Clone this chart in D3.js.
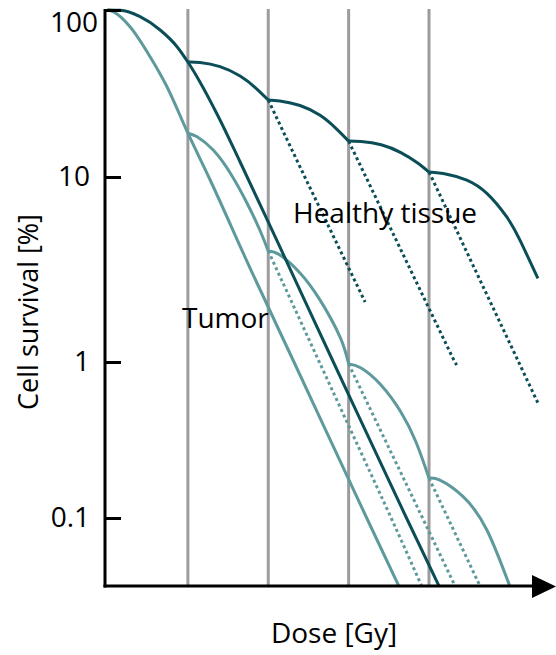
<!DOCTYPE html>
<html>
<head>
<meta charset="utf-8">
<script src="https://cdn.jsdelivr.net/npm/d3@7"></script>
<style>
  html, body { margin: 0; padding: 0; background: #fff; }
  svg { display: block; font-family: "Open Sans", sans-serif; }
</style>
</head>
<body>
<svg id="chart" width="556" height="655"></svg>
<script>
// Dose at which each fraction is delivered (Gy)
const fractionDoses = [2, 4, 6, 8];

// Survival axis (percent) and its labels
const survivalTicks = [0.1, 1, 10, 100];
const survivalTickLabels = ["0.1", "1", "10", "100"];

// Healthy tissue: whole dose given at once  [dose Gy, survival %]
const healthySingle = [[0, 100], [0.31, 99.5], [0.81, 91.2], [1.31, 75.9], [1.73, 60.3], [2, 48.8],
  [2.3, 37.1], [2.75, 23.2], [3.3, 12.3], [4.22, 4.51], [5.62, 1], [7.44, 0.1], [8.25, 0.0366]];

// Healthy tissue: recovery shoulder after each fraction
const healthyFraction1 = [[2, 48.8], [2.3, 48.5], [2.8, 45.8], [3.3, 40.2], [3.69, 34.1], [4, 28.9]];
const healthyFraction2 = [[4, 28.9], [4.29, 28.5], [4.79, 26.8], [5.29, 23.4], [5.69, 19.5], [6, 16.4]];
const healthyFraction3 = [[6, 16.4], [6.31, 16.3], [6.81, 15.6], [7.3, 14.0], [7.7, 12.2], [8, 10.7]];
const healthyFraction4 = [[8, 10.7], [8.44, 10.4], [8.94, 9.63], [9.44, 8.16], [9.93, 6.10], [10.26, 4.57], [10.71, 2.83]];

// Healthy tissue: survival if the dose had continued without a break
const healthyContinued1 = [[4, 28.9], [4.91, 10], [6.41, 2.11]];
const healthyContinued2 = [[6, 16.4], [6.43, 10], [8.64, 1], [8.69, 0.957]];
const healthyContinued3 = [[8, 10.7], [8.06, 10], [10.23, 1], [10.71, 0.546]];

// Tumor: whole dose given at once
const tumorSingle = [[0, 100], [0.14, 97.7], [0.56, 79.4], [1.06, 52.5], [1.48, 34.7], [2, 18.3],
  [2.52, 10], [3.59, 3.07], [4.64, 1], [6.45, 0.1], [7.25, 0.0366]];

// Tumor: shoulder after each fraction
const tumorFraction1 = [[2, 18.3], [2.23, 17.4], [2.63, 14.5], [3.05, 10.6], [3.47, 7.24], [3.79, 5.17], [4, 3.98]];
const tumorFraction2 = [[4, 3.98], [4.29, 3.79], [4.79, 3.03], [5.29, 2.16], [5.79, 1.36], [6, 0.971]];
const tumorFraction3 = [[6, 0.971], [6.31, 0.915], [6.805, 0.712], [7.3, 0.478], [7.676, 0.307], [8, 0.180]];
const tumorFraction4 = [[8, 0.180], [8.27, 0.175], [8.85, 0.137], [9.44, 0.0838], [10.01, 0.0366]];

// Tumor: survival if the dose had continued without a break
const tumorContinued1 = [[4, 3.98], [5.27, 1], [7.06, 0.1], [7.82, 0.0366]];
const tumorContinued2 = [[6, 0.971], [7.84, 0.1], [8.65, 0.0366]];
const tumorContinued3 = [[8, 0.180], [8.47, 0.1], [9.27, 0.0366]];

const colors = { healthy: "#0b4e58", tumor: "#5e999c", grid: "#9c9c9c", axis: "#000" };

const svg = d3.select("#chart");
const W = 556, H = 655;
const axisX = 105, axisTop = 9, axisBottom = 586;

// Dose scale
const x = d3.scaleLinear().domain([0, 8]).range([107.5, 429]);
// Survival scale (log10 of %), piecewise per decade
const yLog = d3.scaleLinear().domain([-1, 0, 1, 2]).range([518, 362, 177, 10]);
const y = v => yLog(Math.log10(v));

// clip to the plotting area
svg.append("defs").append("clipPath").attr("id", "plot")
  .append("rect").attr("x", axisX).attr("y", 0).attr("width", W - axisX).attr("height", axisBottom);

// fraction markers
svg.append("g").selectAll("line").data(fractionDoses).join("line")
  .attr("x1", d => x(d)).attr("x2", d => x(d))
  .attr("y1", axisTop).attr("y2", axisBottom)
  .attr("stroke", colors.grid).attr("stroke-width", 3);

const smooth = d3.line().x(d => x(d[0])).y(d => y(d[1])).curve(d3.curveMonotoneX);
const shoulder = d3.line().x(d => x(d[0])).y(d => y(d[1])).curve(d3.curveNatural);
const straight = d3.line().x(d => x(d[0])).y(d => y(d[1]));

const curves = svg.append("g").attr("clip-path", "url(#plot)").attr("fill", "none");

function draw(data, color, gen, dotted) {
  const p = curves.append("path").datum(data)
    .attr("d", gen)
    .attr("stroke", color)
    .attr("stroke-width", 3);
  if (dotted) p.attr("stroke-dasharray", "3,3");
  return p;
}

// tumor
[tumorContinued1, tumorContinued2, tumorContinued3].forEach(s => draw(s, colors.tumor, straight, true));
draw(tumorSingle, colors.tumor, smooth);
[tumorFraction1, tumorFraction2, tumorFraction3, tumorFraction4].forEach(s => draw(s, colors.tumor, shoulder));

// healthy tissue
[healthyContinued1, healthyContinued2, healthyContinued3].forEach(s => draw(s, colors.healthy, straight, true));
draw(healthySingle, colors.healthy, smooth);
[healthyFraction1, healthyFraction2, healthyFraction3, healthyFraction4].forEach(s => draw(s, colors.healthy, shoulder));

// y axis: inward ticks, labels on the left
const yAxis = d3.axisLeft(yLog)
  .tickValues(survivalTicks.map(Math.log10))
  .tickFormat((d, i) => survivalTickLabels[i])
  .tickSizeInner(-16).tickSizeOuter(0).tickPadding(15);
const gy = svg.append("g").attr("transform", `translate(${axisX},0)`).call(yAxis);
gy.select(".domain").remove();
gy.selectAll(".tick line").attr("stroke", colors.axis).attr("stroke-width", 3);
gy.selectAll(".tick text").attr("font-size", 28).attr("font-family", "Open Sans, sans-serif").attr("fill", "#000");
// top label sits below its tick
gy.selectAll(".tick text").filter((d, i) => i === survivalTicks.length - 1)
  .attr("dy", "0.78em").attr("x", -7);

svg.append("line").attr("x1", axisX).attr("x2", axisX).attr("y1", axisTop).attr("y2", axisBottom + 1.5)
  .attr("stroke", colors.axis).attr("stroke-width", 3);
svg.append("line").attr("x1", axisX - 1.5).attr("x2", 534).attr("y1", axisBottom).attr("y2", axisBottom)
  .attr("stroke", colors.axis).attr("stroke-width", 3);
svg.append("path").attr("d", d3.line()([[532, 575], [556, 586.5], [532, 598]]) + "Z").attr("fill", colors.axis);

// titles
svg.append("text").attr("x", 334).attr("y", 643).attr("text-anchor", "middle")
  .attr("font-size", 28).text("Dose [Gy]");
svg.append("text").attr("transform", "translate(38,312) rotate(-90)").attr("text-anchor", "middle")
  .attr("font-size", 27).text("Cell survival [%]");

// curve annotations
svg.append("text").attr("x", 293).attr("y", 223).attr("font-size", 28).text("Healthy tissue");
svg.append("text").attr("x", 182).attr("y", 328).attr("font-size", 28).text("Tumor");
</script>
</body>
</html>
